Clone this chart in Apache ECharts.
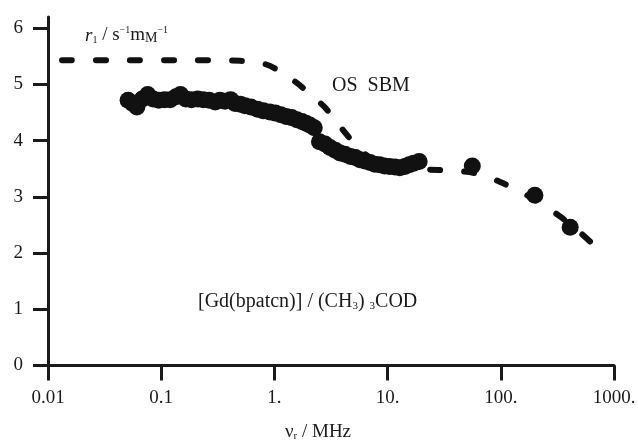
<!DOCTYPE html>
<html>
<head>
<meta charset="utf-8">
<script src="https://cdn.jsdelivr.net/npm/echarts@6/dist/echarts.min.js"></script>
<style>
  html, body { margin: 0; padding: 0; background: #fff; }
  #chart { width: 638px; height: 441px; }
</style>
</head>
<body>
<div id="chart"></div>
<script>
// Relaxivity r1 versus proton Larmor frequency (NMRD profile)

// Measured relaxivities: frequency (MHz) and r1 (s^-1 mM^-1)
const measFreq = [0.051, 0.056, 0.061, 0.068, 0.076, 0.085, 0.095, 0.107, 0.12, 0.135,
                  0.148, 0.165, 0.185, 0.21, 0.235, 0.265, 0.30, 0.33, 0.365, 0.41,
                  0.45, 0.50, 0.55, 0.62, 0.71, 0.80, 0.91, 1.02, 1.14, 1.27,
                  1.42, 1.58, 1.75, 1.9, 2.05, 2.25, 2.5, 2.8, 3.1, 3.45,
                  3.8, 4.2, 4.7, 5.2, 5.7, 6.3, 7.0, 7.7, 8.5, 9.4,
                  10.4, 11.6, 12.8, 14.2, 15.5, 17, 19, 56, 200, 410];
const measR1   = [4.72, 4.66, 4.60, 4.74, 4.82, 4.74, 4.72, 4.73, 4.73, 4.78,
                  4.82, 4.74, 4.73, 4.74, 4.73, 4.72, 4.69, 4.72, 4.70, 4.73,
                  4.66, 4.65, 4.62, 4.60, 4.56, 4.53, 4.51, 4.49, 4.46, 4.43,
                  4.41, 4.37, 4.34, 4.31, 4.28, 4.23, 3.98, 3.94, 3.88, 3.83,
                  3.78, 3.76, 3.72, 3.70, 3.66, 3.64, 3.61, 3.58, 3.57, 3.55,
                  3.54, 3.53, 3.52, 3.54, 3.57, 3.60, 3.63, 3.55, 3.03, 2.46];

// Outer-sphere SBM fit curve
const fitFreq = [0.0133, 0.05, 0.2, 0.5, 0.8, 1.0, 1.6, 2.0, 2.8, 4.3,
                 6.0, 9.0, 15, 28, 60, 100, 200, 340, 500, 790];
const fitR1   = [5.43, 5.43, 5.43, 5.42, 5.37, 5.29, 5.02, 4.85, 4.59, 4.12,
                 3.80, 3.57, 3.49, 3.48, 3.42, 3.26, 2.95, 2.64, 2.37, 2.00];

// Axis ticks
const xTickValues = [0.01, 0.1, 1, 10, 100, 1000];
const xTickLabels = ['0.01', '0.1', '1.', '10.', '100.', '1000.'];
const yTickValues = [0, 1, 2, 3, 4, 5, 6];

const serif = 'Liberation Serif';
const ink = '#1a1a1a';

const chart = echarts.init(document.getElementById('chart'), null, { renderer: 'canvas' });

chart.setOption({
  animation: false,
  backgroundColor: '#ffffff',
  grid: { left: 48, right: 24, top: 17, bottom: 75.5, containLabel: false, outerBoundsMode: 'none' },
  xAxis: {
    type: 'log',
    logBase: 10,
    min: 0.01,
    max: 1000,
    name: '{n|ν}{sub|r}{n| / MHz}',
    nameLocation: 'middle',
    nameGap: 56,
    nameTextStyle: {
      padding: [0, 26, 0, 0],
      rich: {
        n: { fontFamily: serif, fontSize: 19, color: ink, verticalAlign: 'bottom', lineHeight: 20 },
        sub: { fontFamily: serif, fontSize: 11, color: ink, verticalAlign: 'bottom', lineHeight: 12 }
      }
    },
    axisLine: { show: true, onZero: false, lineStyle: { color: ink, width: 3 } },
    axisTick: { show: true, inside: false, length: 15, lineStyle: { color: ink, width: 3 } },
    minorTick: { show: false },
    splitLine: { show: false },
    axisLabel: {
      margin: 23,
      fontFamily: serif,
      fontSize: 19,
      color: ink,
      formatter: function (v) {
        for (let i = 0; i < xTickValues.length; i++) {
          if (Math.abs(Math.log10(v) - Math.log10(xTickValues[i])) < 1e-6) return xTickLabels[i];
        }
        return '';
      }
    }
  },
  yAxis: {
    type: 'value',
    min: 0,
    max: 6.2,
    axisLine: { show: true, onZero: false, lineStyle: { color: ink, width: 3 } },
    axisTick: { show: true, inside: false, length: 15, customValues: yTickValues, lineStyle: { color: ink, width: 3 } },
    splitLine: { show: false },
    axisLabel: {
      customValues: yTickValues,
      margin: 25,
      fontFamily: serif,
      fontSize: 19,
      color: ink
    }
  },
  series: [
    {
      name: 'OS SBM',
      type: 'line',
      data: fitFreq.map((f, i) => [f, fitR1[i]]),
      smooth: 0.3,
      showSymbol: false,
      symbol: 'none',
      lineStyle: { color: '#111', width: 6, type: [10, 24], cap: 'round' },
      z: 2
    },
    {
      name: '[Gd(bpatcn)] / (CH3)3COD',
      type: 'scatter',
      data: measFreq.map((f, i) => [f, measR1[i]]),
      symbol: 'circle',
      symbolSize: 17,
      itemStyle: { color: '#111', opacity: 1 },
      z: 3
    }
  ],
  graphic: [
    {
      type: 'text',
      x: 85, y: 35,
      style: {
        text: '{i|r}{sub|1}{n| / s}{sup|−1}{n|m}{sc|M}{sup|−1}',
        verticalAlign: 'middle',
        rich: {
          i: { fontFamily: serif, fontStyle: 'italic', fontSize: 19, fill: ink, verticalAlign: 'bottom', lineHeight: 20 },
          n: { fontFamily: serif, fontSize: 19, fill: ink, verticalAlign: 'bottom', lineHeight: 20 },
          sc: { fontFamily: serif, fontSize: 14, fill: ink, verticalAlign: 'bottom', lineHeight: 17 },
          sub: { fontFamily: serif, fontSize: 10, fill: ink, verticalAlign: 'bottom', lineHeight: 10 },
          sup: { fontFamily: serif, fontSize: 10, fill: ink, verticalAlign: 'top', lineHeight: 12 }
        }
      }
    },
    {
      type: 'text',
      x: 332, y: 86,
      style: {
        text: 'OS  SBM',
        fontFamily: serif,
        fontSize: 20,
        fill: ink,
        verticalAlign: 'middle'
      }
    },
    {
      type: 'text',
      x: 198, y: 302,
      style: {
        text: '{n|[Gd(bpatcn)] / (CH}{sub|3}{n|) }{sub|3}{n|COD}',
        verticalAlign: 'middle',
        rich: {
          n: { fontFamily: serif, fontSize: 20, fill: ink, verticalAlign: 'bottom', lineHeight: 20 },
          sub: { fontFamily: serif, fontSize: 11, fill: ink, verticalAlign: 'bottom', lineHeight: 10 }
        }
      }
    }
  ]
});
</script>
</body>
</html>
